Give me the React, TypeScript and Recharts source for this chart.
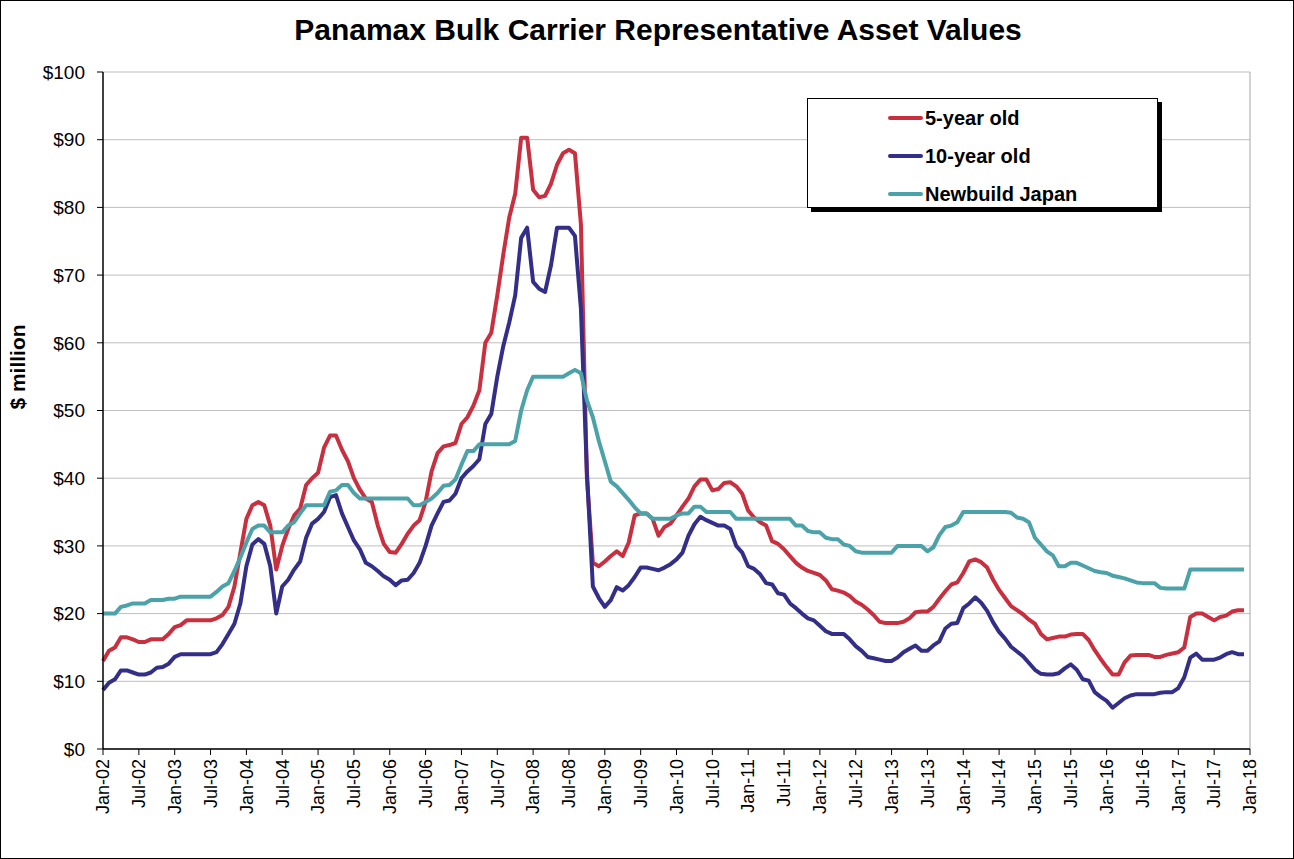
import React from "react";
import {
  LineChart,
  Line,
  XAxis,
  YAxis,
  CartesianGrid,
  Legend,
  ReferenceLine,
} from "recharts";

// monthly values, Jan-02 .. Dec-17 ($ million), one row per year
const fiveYearOld = [
  13, 14.5, 15, 16.5, 16.5, 16.2, 15.8, 15.8, 16.2, 16.2, 16.2, 17,
  18, 18.3, 19, 19, 19, 19, 19, 19.3, 19.8, 21, 24, 29,
  34, 36, 36.5, 36, 33, 26.5, 30, 32.5, 34.5, 35.5, 39, 40,
  40.8, 44.5, 46.3, 46.3, 44.2, 42.5, 40, 38.3, 37, 36.5, 33, 30.3,
  29.1, 29, 30.3, 31.8, 33, 33.8, 36.5, 41, 43.7, 44.7, 44.9, 45.2,
  48, 49, 50.7, 53, 60, 61.5, 67, 73, 78.5, 82, 90.3, 90.3,
  82.6, 81.5, 81.7, 83.5, 86.3, 88, 88.5, 88, 77.5, 40, 27.5, 27,
  27.7, 28.5, 29.2, 28.5, 30.5, 34.5, 34.8, 34.8, 34, 31.5, 32.8, 33.3,
  34.5, 35.8, 37, 38.8, 39.8, 39.8, 38.2, 38.4, 39.3, 39.4, 38.8, 37.7,
  35.2, 34.2, 33.5, 33, 30.7, 30.3, 29.5, 28.5, 27.5, 26.8, 26.3, 26,
  25.7, 24.9, 23.6, 23.4, 23.1, 22.6, 21.8, 21.3, 20.6, 19.8, 18.8, 18.6,
  18.6, 18.6, 18.8, 19.3, 20.2, 20.3, 20.3, 21, 22.2, 23.3, 24.3, 24.6,
  26, 27.7, 28, 27.6, 26.8, 25, 23.5, 22.3, 21.1, 20.5, 19.9, 19.1,
  18.5, 17, 16.2, 16.4, 16.6, 16.6, 16.9, 17, 17, 16.1, 14.6, 13.3,
  12.1, 11, 11, 12.8, 13.8, 13.9, 13.9, 13.9, 13.6, 13.6, 13.9, 14.1,
  14.3, 15, 19.5, 20, 20, 19.5, 19, 19.5, 19.7, 20.3, 20.5, 20.5,
];

const tenYearOld = [
  8.7, 9.8, 10.3, 11.6, 11.6, 11.3, 11, 11, 11.3, 12, 12.1, 12.6,
  13.6, 14, 14, 14, 14, 14, 14, 14.3, 15.5, 17, 18.5, 21.5,
  27, 30.2, 31, 30.3, 27, 20, 24, 25, 26.5, 27.7, 31.2, 33.3,
  34, 35, 37.2, 37.5, 34.8, 32.8, 30.8, 29.5, 27.5, 27, 26.3, 25.5,
  25, 24.2, 24.9, 25, 26, 27.5, 30, 33, 34.8, 36.5, 36.7, 37.7,
  40, 41, 41.8, 42.8, 48, 49.5, 55, 59.5, 63, 67, 75.5, 77,
  69, 68, 67.5, 71.5, 77, 77, 77, 75.8, 65, 41, 24, 22.3,
  21, 22, 23.9, 23.4, 24.2, 25.4, 26.8, 26.8, 26.6, 26.4, 26.8, 27.3,
  28, 29, 31.5, 33.2, 34.3, 33.8, 33.4, 33, 33, 32.5, 30, 29,
  27, 26.6, 25.8, 24.5, 24.3, 23, 22.8, 21.5, 20.8, 20, 19.3, 19,
  18.2, 17.4, 17, 17, 17, 16.2, 15.2, 14.5, 13.6, 13.4, 13.2, 13,
  13, 13.5, 14.3, 14.8, 15.3, 14.5, 14.5, 15.3, 15.9, 17.8, 18.5, 18.6,
  20.8, 21.5, 22.4, 21.6, 20.4, 18.7, 17.3, 16.3, 15.1, 14.4, 13.7, 12.7,
  11.7, 11.1, 11, 11, 11.2, 11.9, 12.5, 11.7, 10.3, 10.1, 8.4, 7.7,
  7.1, 6.1, 6.8, 7.5, 7.9, 8.1, 8.1, 8.1, 8.1, 8.3, 8.4, 8.4,
  9, 10.6, 13.5, 14.1, 13.2, 13.2, 13.2, 13.5, 14, 14.3, 14, 14,
];

const newbuildJapan = [
  20, 20, 20, 21, 21.2, 21.5, 21.5, 21.5, 22, 22, 22, 22.2,
  22.2, 22.5, 22.5, 22.5, 22.5, 22.5, 22.5, 23.2, 24, 24.5, 26.3, 28.3,
  30.5, 32.5, 33, 33, 32, 32, 32, 33, 33.5, 34.8, 36, 36,
  36, 36, 38, 38.2, 39, 39, 37.8, 37, 37, 37, 37, 37,
  37, 37, 37, 37, 36, 36, 36.5, 37, 37.8, 38.9, 39, 39.8,
  42, 44, 44, 45, 45, 45, 45, 45, 45, 45.5, 50, 53,
  55, 55, 55, 55, 55, 55, 55.5, 56, 55.5, 51.5, 49, 45.5,
  42.5, 39.5, 38.8, 37.8, 36.8, 35.7, 34.8, 34.8, 34, 34, 34, 34,
  34.5, 34.8, 34.8, 35.8, 35.8, 35, 35, 35, 35, 35, 34, 34,
  34, 34, 34, 34, 34, 34, 34, 34, 33, 33, 32.2, 32,
  32, 31.2, 31, 31, 30.2, 30, 29.2, 29, 29, 29, 29, 29,
  29, 30, 30, 30, 30, 30, 29.2, 29.8, 31.6, 32.8, 33, 33.5,
  35, 35, 35, 35, 35, 35, 35, 35, 34.9, 34.2, 34, 33.5,
  31.2, 30.2, 29.2, 28.6, 27, 27, 27.5, 27.5, 27.1, 26.7, 26.3, 26.1,
  26, 25.6, 25.4, 25.2, 24.9, 24.6, 24.5, 24.5, 24.5, 23.8, 23.7, 23.7,
  23.7, 23.7, 26.5, 26.5, 26.5, 26.5, 26.5, 26.5, 26.5, 26.5, 26.5, 26.5,
];

const monthNames = ["Jan", "Feb", "Mar", "Apr", "May", "Jun", "Jul", "Aug", "Sep", "Oct", "Nov", "Dec"];
const years = ["02", "03", "04", "05", "06", "07", "08", "09", "10", "11", "12", "13", "14", "15", "16", "17"];
// x categories Jan-02 .. Jan-18 (Jan-18 is the axis end, no values)
const months = [...years.flatMap((yy) => monthNames.map((mm) => `${mm}-${yy}`)), "Jan-18"];

const yTicks = [0, 10, 20, 30, 40, 50, 60, 70, 80, 90, 100];

const series = [
  { key: "five", name: "5-year old", color: "#C9303F" },
  { key: "ten", name: "10-year old", color: "#332E87" },
  { key: "newbuild", name: "Newbuild Japan", color: "#4BA2A9" },
];

const data = months.map((month, i) => ({
  month,
  five: fiveYearOld[i] ?? null,
  ten: tenYearOld[i] ?? null,
  newbuild: newbuildJapan[i] ?? null,
}));

const FONT = "'Liberation Sans', Arial, Helvetica, sans-serif";

const XTick = (props: any) => {
  const { x, y, payload } = props;
  return (
    <text
      x={x}
      y={y}
      transform={`rotate(-90, ${x}, ${y})`}
      textAnchor="end"
      dy="0.35em"
      fontSize={18}
      fontFamily={FONT}
      fill="#000"
    >
      {payload.value}
    </text>
  );
};

const renderLegend = () => (
  <div
    style={{
      width: 351,
      height: 110,
      boxSizing: "border-box",
      border: "1px solid #000",
      boxShadow: "4px 4px 0 #000",
      background: "#fff",
      fontFamily: FONT,
      fontWeight: "bold",
      fontSize: 20,
    }}
  >
    {series.map((s) => (
      <div key={s.key} style={{ height: 38, display: "flex", alignItems: "center" }}>
        <div
          style={{
            marginLeft: 80,
            width: 35,
            height: 4,
            borderRadius: 2,
            background: s.color,
          }}
        />
        <span style={{ marginLeft: 2 }}>{s.name}</span>
      </div>
    ))}
  </div>
);

const App = () => {
  return (
    <div style={{ position: "absolute", left: 0, top: 0, width: 1294, height: 859, background: "#fff" }}>
      <div
        style={{
          position: "absolute",
          left: 658,
          top: 15,
          transform: "translateX(-50%)",
          whiteSpace: "nowrap",
          fontFamily: FONT,
          fontWeight: "bold",
          fontSize: 30,
          lineHeight: "30px",
        }}
      >
        Panamax Bulk Carrier Representative Asset Values
      </div>
      <div
        style={{
          position: "absolute",
          left: 18,
          top: 367,
          transform: "translate(-50%, -50%) rotate(-90deg)",
          whiteSpace: "nowrap",
          fontFamily: FONT,
          fontWeight: "bold",
          fontSize: 21,
        }}
      >
        $ million
      </div>
      <LineChart
        width={1294}
        height={859}
        data={data}
        margin={{ top: 72, right: 44, bottom: 50, left: 43 }}
      >
        <CartesianGrid horizontal vertical={false} stroke="#BFBFBF" strokeWidth={1} />
        <XAxis
          dataKey="month"
          interval={5}
          height={60}
          axisLine={{ stroke: "#000", strokeWidth: 1.5 }}
          tickLine={{ stroke: "#000" }}
          tickSize={6}
          tickMargin={4}
          tick={<XTick />}
        />
        <YAxis
          width={60}
          domain={[0, 100]}
          ticks={yTicks}
          tickFormatter={(v) => `$${v}`}
          axisLine={{ stroke: "#000", strokeWidth: 1.5 }}
          tickLine={{ stroke: "#000" }}
          tickSize={6}
          tickMargin={12}
          tick={{ fill: "#000", fontSize: 19, fontFamily: FONT }}
        />
        <ReferenceLine x="Jan-18" stroke="#A6A6A6" strokeWidth={1} />
        {series.map((s) => (
          <Line
            key={s.key}
            type="linear"
            dataKey={s.key}
            name={s.name}
            stroke={s.color}
            strokeWidth={4}
            strokeLinejoin="round"
            dot={false}
            activeDot={false}
            isAnimationActive={false}
          />
        ))}
        <Legend
          layout="vertical"
          align="center"
          verticalAlign="middle"
          content={renderLegend}
          wrapperStyle={{ left: 807, top: 98, width: 355, height: 114 }}
        />
      </LineChart>
      <div
        style={{
          position: "absolute",
          left: 0,
          top: 0,
          width: 1294,
          height: 859,
          boxSizing: "border-box",
          border: "1px solid #000",
          pointerEvents: "none",
        }}
      />
    </div>
  );
};

export default App;
